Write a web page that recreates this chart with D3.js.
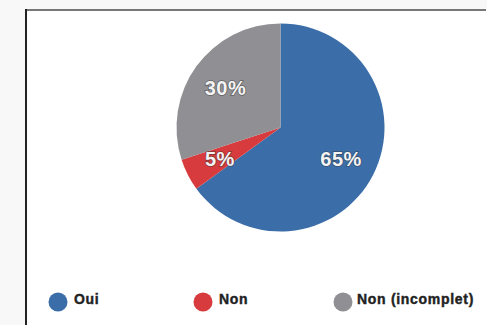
<!DOCTYPE html>
<html>
<head>
<meta charset="utf-8">
<script src="https://cdn.jsdelivr.net/npm/d3@7"></script>
<style>
  body { margin: 0; background: #fff; }
  svg { display: block; }
</style>
</head>
<body>
<svg id="chart"></svg>
<script>
const categories = ['Oui', 'Non', 'Non (incomplet)'];
const values = [65, 5, 30];
const colors = ['#3b6ea9', '#d83b3d', '#909094'];

const w = 487;
const h = 325;
const cx = 280.5;
const cy = 127.5;
const radius = 104;

const svg = d3.select('#chart')
    .attr('width', w)
    .attr('height', h);

// frame
svg.append('rect')
    .attr('x', 0).attr('y', 0)
    .attr('width', w).attr('height', h)
    .style('fill', '#f8f8f8');
svg.append('rect')
    .attr('x', 26).attr('y', 10)
    .attr('width', w - 26).attr('height', h - 10)
    .style('fill', '#fff');
svg.append('line')
    .attr('x1', 26).attr('x2', 486)
    .attr('y1', 10).attr('y2', 10)
    .style('stroke', '#777')
    .style('stroke-width', 2);
svg.append('line')
    .attr('x1', 26).attr('x2', 26)
    .attr('y1', 9).attr('y2', h)
    .style('stroke', '#222')
    .style('stroke-width', 2);

const data = categories.map((c, i) => ({ name: c, value: values[i], color: colors[i] }));

const pie = d3.pie()
    .sort(null)
    .value(d => d.value);

const arc = d3.arc()
    .innerRadius(0)
    .outerRadius(radius);

const labelArc = d3.arc()
    .innerRadius(68)
    .outerRadius(68);

const g = svg.append('g')
    .attr('transform', 'translate(' + cx + ',' + cy + ')');

const arcs = pie(data);

g.selectAll('path')
    .data(arcs)
    .enter()
    .append('path')
    .attr('d', arc)
    .style('fill', d => d.data.color);

g.selectAll('text')
    .data(arcs)
    .enter()
    .append('text')
    .attr('transform', d => 'translate(' + labelArc.centroid(d) + ')')
    .attr('text-anchor', 'middle')
    .attr('dy', '0.36em')
    .style('font-family', 'Liberation Sans, Arial, sans-serif')
    .style('font-weight', 'bold')
    .style('font-size', '20px')
    .style('letter-spacing', '0.5px')
    .style('fill', '#f4f4f4')
    .style('paint-order', 'stroke')
    .style('stroke', 'rgba(50,50,50,0.5)')
    .style('stroke-width', 1.6)
    .text(d => d.data.value + '%');

// legend
const legendX = [58, 203, 343];
const legend = svg.selectAll('.legend')
    .data(data)
    .enter()
    .append('g')
    .attr('class', 'legend')
    .attr('transform', (d, i) => 'translate(' + legendX[i] + ',302)');

legend.append('circle')
    .attr('r', 9.5)
    .style('fill', d => d.color);

legend.append('text')
    .attr('x', (d, i) => i === 2 ? 14 : 16)
    .attr('y', 2)
    .style('font-family', 'Liberation Sans, Arial, sans-serif')
    .style('font-weight', 'bold')
    .style('font-size', '14px')
    .style('letter-spacing', '0.7px')
    .style('stroke', '#222')
    .style('stroke-width', 0.4)
    .style('fill', '#222')
    .text(d => d.name);
</script>
</body>
</html>
